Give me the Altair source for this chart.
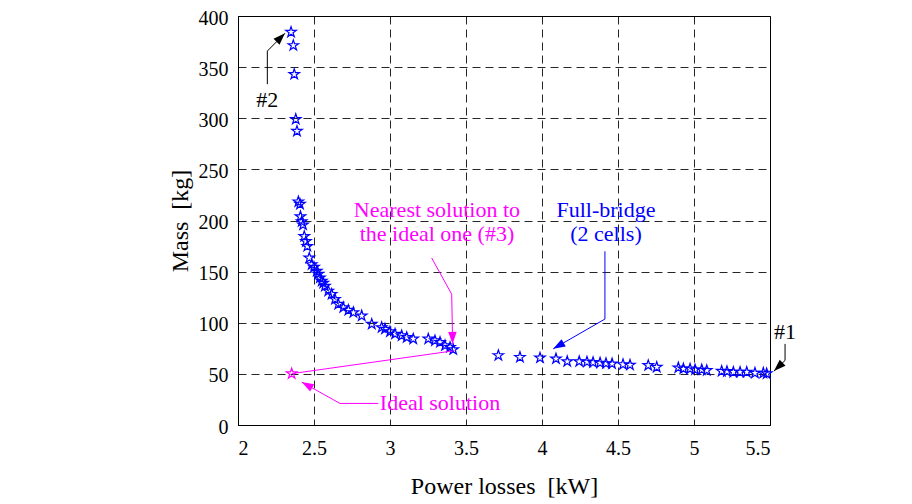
import math
import altair as alt
import pandas as pd

# ---- data ----
loss = [2.349, 2.364, 2.370, 2.380, 2.388, 2.397, 2.408, 2.411, 2.419, 2.428,
        2.436, 2.447, 2.456, 2.469, 2.485, 2.500, 2.518, 2.528, 2.539, 2.551,
        2.561, 2.572, 2.594, 2.616, 2.638, 2.660, 2.693, 2.726, 2.759, 2.814,
        2.880, 2.945, 2.967, 3.000, 3.033, 3.077, 3.110, 3.153, 3.252, 3.296,
        3.329, 3.362, 3.395, 3.416,
        3.713, 3.855, 3.987, 4.092, 4.166, 4.245, 4.296, 4.336, 4.382, 4.421,
        4.461, 4.533, 4.579, 4.699, 4.755, 4.897, 4.930, 4.974, 5.007, 5.051,
        5.084, 5.182, 5.217, 5.259, 5.303, 5.347, 5.401, 5.456, 5.478]
mass = [384.2, 371.2, 343.0, 299.0, 287.4, 218.4, 216.0, 203.9, 199.0, 195.8,
        184.5, 179.6, 174.8, 163.4, 157.0, 154.4, 150.5, 147.6, 144.0, 140.8,
        138.8, 135.9, 131.1, 127.9, 123.0, 118.2, 114.9, 112.3, 110.0, 106.8,
        98.7, 95.4, 93.9, 91.3, 89.0, 87.4, 85.7, 84.2, 84.2, 82.5,
        80.9, 77.7, 76.0, 73.8,
        68.0, 66.3, 65.7, 64.8, 62.1, 62.1, 61.7, 61.2, 60.7, 60.2,
        59.9, 59.2, 58.7, 58.3, 56.6, 56.0, 55.0, 54.9, 54.1, 54.1,
        53.4, 52.7, 52.4, 51.7, 51.7, 51.7, 50.8, 50.8, 50.2]

ideal_loss = [2.353]
ideal_mass = [50.2]

# annotation texts
ann_text = ["#2", "#1", "Nearest solution to", "the ideal one (#3)",
            "Full-bridge", "(2 cells)", "Ideal solution"]
ann_x = [2.193, 5.599, 3.309, 3.309, 4.421, 4.421, 3.329]
ann_y = [317.5, 91.3, 210.7, 186.4, 210.7, 186.4, 21.4]
ann_color = ["#000000", "#000000", "#ff00ff", "#ff00ff", "#0000ff", "#0000ff", "#ff00ff"]

# annotation arrows (polylines, last point is the arrow tip)
arrow_x = [[2.193, 2.193, 2.309],
           [5.599, 5.599, 5.526],
           [3.274, 3.406, 3.412],
           [4.414, 4.414, 4.074],
           [2.923, 2.671, 2.419]]
arrow_y = [[333.3, 365.7, 383.1],
           [79.3, 63.1, 52.7],
           [163.4, 127.9, 79.3],
           [169.9, 103.6, 74.5],
           [21.1, 21.1, 42.0]]
arrow_color = ["#000000", "#000000", "#ff00ff", "#0000ff", "#ff00ff"]

# plain connecting line ideal -> nearest
link_x = [2.353, 3.416]
link_y = [50.2, 72.5]

# ---- layout ----
W, H = 532, 409
XDOM = [2, 5.5]
YDOM = [0, 400]

STAR = ("M0,-1L0.2245,-0.309L0.951,-0.309L0.363,0.118L0.588,0.809L0,0.382"
        "L-0.588,0.809L-0.363,0.118L-0.951,-0.309L-0.2245,-0.309Z")
HEAD = "M0,0L-0.7,2L0.7,2Z"

pts = pd.DataFrame({"loss": loss, "mass": mass})
ideal = pd.DataFrame({"loss": ideal_loss, "mass": ideal_mass})
ann = pd.DataFrame({"x": ann_x, "y": ann_y, "t": ann_text, "c": ann_color})

seg_rows, head_rows = [], []
for xs, ys, c in zip(arrow_x, arrow_y, arrow_color):
    for i in range(len(xs) - 1):
        seg_rows.append({"x": xs[i], "y": ys[i], "x2": xs[i + 1], "y2": ys[i + 1], "c": c})
    dx = (xs[-1] - xs[-2]) * W / (XDOM[1] - XDOM[0])
    dy = -(ys[-1] - ys[-2]) * H / (YDOM[1] - YDOM[0])
    ang = math.degrees(math.atan2(dx, -dy)) % 360
    head_rows.append({"x": xs[-1], "y": ys[-1], "a": ang, "c": c})
seg_rows.append({"x": link_x[0], "y": link_y[0], "x2": link_x[1], "y2": link_y[1], "c": "#ff00ff"})
segs = pd.DataFrame(seg_rows)
heads = pd.DataFrame(head_rows)

xscale = alt.Scale(domain=XDOM, nice=False, zero=False)
yscale = alt.Scale(domain=YDOM, nice=False, zero=False)

xaxis = alt.Axis(values=[2, 2.5, 3, 3.5, 4, 4.5, 5, 5.5], format="~g",
                 title="Power losses\u00a0 [kW]", titlePadding=16, labelPadding=13)
yaxis = alt.Axis(values=list(range(0, 401, 50)), title="Mass\u00a0 [kg]",
                 titlePadding=6, labelPadding=10, labelOffset=2)

base_x = alt.X("loss:Q", scale=xscale, axis=xaxis)
base_y = alt.Y("mass:Q", scale=yscale, axis=yaxis)

stars = alt.Chart(pts).mark_point(shape=STAR, filled=False, color="#0000ff",
                                  size=121, strokeWidth=1.2, opacity=1).encode(x=base_x, y=base_y)
ideal_pt = alt.Chart(ideal).mark_point(shape=STAR, filled=False, color="#ff00ff",
                                       size=121, strokeWidth=1.2, opacity=1).encode(
    x=alt.X("loss:Q", scale=xscale), y=alt.Y("mass:Q", scale=yscale))

lines = alt.Chart(segs).mark_rule(strokeWidth=1).encode(
    x=alt.X("x:Q", scale=xscale), y=alt.Y("y:Q", scale=yscale),
    x2="x2:Q", y2="y2:Q", color=alt.Color("c:N", scale=None))

arrowheads = alt.Chart(heads).mark_point(shape=HEAD, filled=True, size=144,
                                         opacity=1, strokeWidth=0).encode(
    x=alt.X("x:Q", scale=xscale), y=alt.Y("y:Q", scale=yscale),
    angle=alt.Angle("a:Q", scale=None), color=alt.Color("c:N", scale=None))

texts = alt.Chart(ann).mark_text(font="Liberation Serif", fontSize=22,
                                 align="center", baseline="middle").encode(
    x=alt.X("x:Q", scale=xscale), y=alt.Y("y:Q", scale=yscale),
    text="t:N", color=alt.Color("c:N", scale=None))

chart = alt.layer(stars, lines, arrowheads, ideal_pt, texts).properties(
    width=W, height=H,
    autosize="none",
    background="white",
    padding={"left": 230, "top": 8, "right": 134, "bottom": 79},
).configure_view(stroke="#000000", strokeWidth=1).configure_axis(
    grid=True, gridColor="#000000", gridDash=[8, 5], gridWidth=1, gridOpacity=0.85,
    ticks=False, domainColor="#000000", domainWidth=1,
    labelFont="Liberation Serif", labelFontSize=20, labelColor="#000000",
    titleFont="Liberation Serif", titleFontSize=24, titleFontWeight="normal",
    titleColor="#000000",
)

chart.save("out.html", embed_options={"renderer": "svg", "actions": False})
